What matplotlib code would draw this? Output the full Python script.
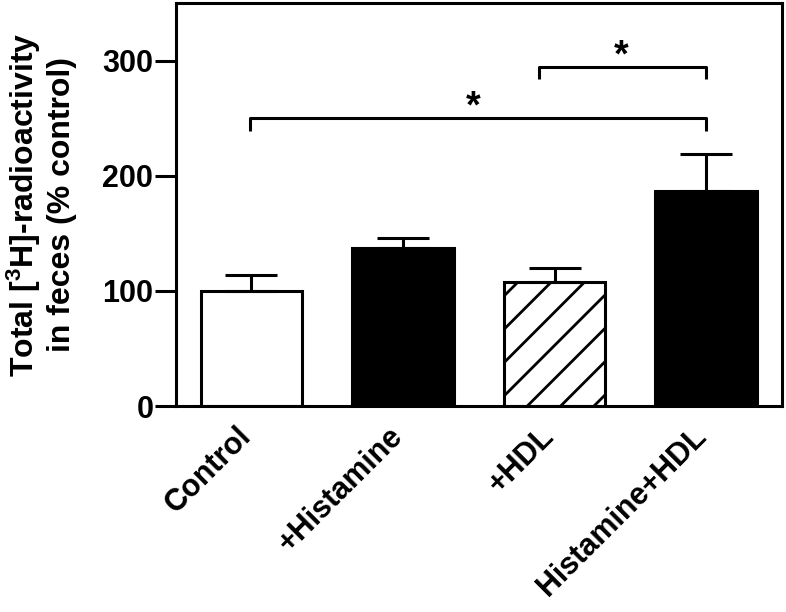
import numpy as np
import matplotlib
matplotlib.use('Agg')
import matplotlib.pyplot as plt
import matplotlib.transforms as mtransforms

plt.rcParams['font.family'] = ['Liberation Sans', 'DejaVu Sans']
plt.rcParams['font.weight'] = 'bold'
plt.rcParams['mathtext.fontset'] = 'custom'
plt.rcParams['mathtext.rm'] = 'Liberation Sans:bold'
plt.rcParams['mathtext.bf'] = 'Liberation Sans:bold'
plt.rcParams['mathtext.default'] = 'rm'
plt.rcParams['hatch.linewidth'] = 2.0
plt.rcParams['axes.linewidth'] = 2.2

# data
groups = ['Control', '+Histamine', '+HDL', 'Histamine+HDL']
means = [100, 137, 108, 187]
sem = [14, 9, 12, 32]
facecolors = ['white', 'black', 'white', 'black']
hatches = ['', '', '/', '']

# significance brackets: (x_left, x_right, y, tip length, star x)
brackets = [(-0.01, 3.0, 250, 11, 1.46),
            (1.9, 3.0, 294, 10, 2.44)]

fig = plt.figure(figsize=(7.86, 6.12), dpi=100)
ax = fig.add_axes([0.2233, 0.3366, 0.7717, 0.6585])

x = np.arange(len(groups))
for xi, m, fc, h in zip(x, means, facecolors, hatches):
    ax.bar(xi, m, width=0.67, color=fc, edgecolor='black', linewidth=2.2,
           hatch=h, zorder=2)
ax.errorbar(x, means, yerr=[np.zeros(len(sem)), sem], fmt='none',
            ecolor='black', elinewidth=2.2, capsize=19, capthick=2.2, zorder=3)

for x0, x1, y, tip, sx in brackets:
    ax.plot([x0, x0, x1, x1], [y - tip, y, y, y - tip], color='black',
            lw=2.2, solid_capstyle='butt', clip_on=False)
    ax.text(sx, y + 1, '*', ha='center', va='baseline', fontsize=27,
            fontweight='bold')

ax.set_xlim(-0.5, 3.5)
ax.set_ylim(0, 350)
ax.set_yticks([0, 100, 200, 300])
ax.set_xticks(x)
ax.set_xticklabels(groups, rotation=45, ha='right', va='top', fontsize=22,
                   fontweight='bold')
ax.tick_params(axis='x', length=0, pad=11)
ax.tick_params(axis='y', length=15, width=2.2, pad=1, labelsize=22)
ax.set_ylabel('Total [$^3$H]-radioactivity\nin feces (% control)',
              fontsize=23, fontweight='bold', labelpad=18)

# nudge the rotated labels so their ends sit under the bar centres
shift = mtransforms.ScaledTranslation(6 / 100, 0, fig.dpi_scale_trans)
for lab in ax.get_xticklabels():
    lab.set_transform(lab.get_transform() + shift)

fig.savefig('out.png', dpi=100)
